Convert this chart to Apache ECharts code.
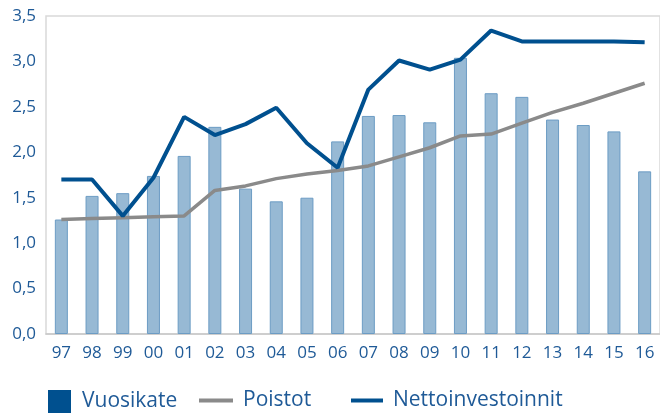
<!DOCTYPE html>
<html>
<head>
<meta charset="utf-8">
<script src="https://cdn.jsdelivr.net/npm/echarts@6/dist/echarts.min.js"></script>
<style>html,body{margin:0;padding:0;background:#fff}#c{width:660px;height:415px}</style>
</head>
<body>
<div id="c"></div>
<script>
const categories = ['97','98','99','00','01','02','03','04','05','06','07','08','09','10','11','12','13','14','15','16'];
const vuosikate = [1.26,1.52,1.55,1.74,1.96,2.28,1.60,1.46,1.50,2.12,2.40,2.41,2.33,3.04,2.65,2.61,2.36,2.30,2.23,1.79];
const poistot = [1.26,1.27,1.28,1.29,1.30,1.58,1.63,1.71,1.76,1.80,1.85,1.95,2.05,2.18,2.20,2.32,2.44,2.54,2.65,2.76];
const nettoinvestoinnit = [1.70,1.70,1.30,1.72,2.39,2.19,2.31,2.49,2.10,1.83,2.69,3.01,2.91,3.02,3.34,3.22,3.22,3.22,3.22,3.21];
const yTicks = [0,0.5,1,1.5,2,2.5,3,3.5];

const TXT = '#1f5a97';
const FONT = '"Open Sans", sans-serif';
const chart = echarts.init(document.getElementById('c'), null, {renderer:'canvas'});
chart.setOption({
  animation:false,
  backgroundColor:'#fff',
  grid:{left:46, top:16, width:615, bottom:81, show:true, borderColor:'#d9d9d9', borderWidth:1.5, containLabel:false},
  xAxis:{
    type:'category', data:categories,
    axisLine:{show:true, lineStyle:{color:'#c8c8c8', width:1.5}},
    axisTick:{show:false},
    axisLabel:{color:TXT, fontFamily:FONT, fontSize:17, margin:11}
  },
  yAxis:{
    type:'value', min:yTicks[0], max:yTicks[yTicks.length-1], interval:0.5,
    axisLine:{show:false}, axisTick:{show:false},
    splitLine:{show:false},
    axisLabel:{color:TXT, fontFamily:FONT, fontSize:17, margin:10,
      formatter:v=>v.toFixed(1).replace('.',',')}
  },
  legend:[
    {data:[{name:'Vuosikate', icon:'rect', itemStyle:{color:'#00508f', borderWidth:0}}],
     left:43, top:385, itemWidth:23, itemHeight:23,
     textStyle:{color:TXT, fontFamily:FONT, fontSize:21, padding:[0,0,0,6]}},
    {data:[{name:'Poistot', icon:'rect', itemStyle:{color:'#8a8a8a'}}],
     left:194, top:385, itemWidth:34, itemHeight:4,
     textStyle:{color:TXT, fontFamily:FONT, fontSize:21, padding:[0,0,0,5]}},
    {data:[{name:'Nettoinvestoinnit', icon:'rect', itemStyle:{color:'#00508f'}}],
     left:346, top:385, itemWidth:32, itemHeight:4,
     textStyle:{color:TXT, fontFamily:FONT, fontSize:21, padding:[0,0,0,5]}}
  ],
  series:[
    {name:'Vuosikate', type:'bar', data:vuosikate, barWidth:13,
     itemStyle:{color:'#97b9d4', borderColor:'#6c9cc4', borderWidth:1}},
    {name:'Poistot', type:'line', data:poistot, symbol:'none',
     lineStyle:{color:'#8a8a8a', width:3.5}, itemStyle:{color:'#8a8a8a'}},
    {name:'Nettoinvestoinnit', type:'line', data:nettoinvestoinnit, symbol:'none',
     lineStyle:{color:'#00508f', width:4}, itemStyle:{color:'#00508f'}}
  ]
});
</script>
</body>
</html>
